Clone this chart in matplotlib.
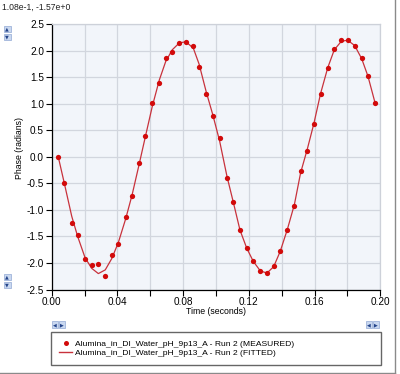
import matplotlib
matplotlib.use('Agg')
import matplotlib.pyplot as plt
from matplotlib.patches import Rectangle
from matplotlib.lines import Line2D

# ---------------- data ----------------
time_s = [0.0040, 0.0077, 0.0122, 0.0158, 0.0203, 0.0243, 0.0284, 0.0326,
          0.0365, 0.0405, 0.0450, 0.0489, 0.0530, 0.0570, 0.0612, 0.0655,
          0.0694, 0.0734, 0.0777, 0.0817, 0.0862, 0.0897, 0.0941, 0.0980,
          0.1022, 0.1067, 0.1105, 0.1146, 0.1187, 0.1227, 0.1270, 0.1310,
          0.1351, 0.1391, 0.1434, 0.1477, 0.1515, 0.1556, 0.1595, 0.1637,
          0.1680, 0.1720, 0.1763, 0.1801, 0.1844, 0.1887, 0.1925, 0.1968]

measured = [0.00, -0.49, -1.25, -1.48, -1.92, -2.03, -2.01, -2.24,
            -1.85, -1.64, -1.14, -0.74, -0.12, 0.40, 1.01, 1.40,
            1.86, 1.98, 2.14, 2.16, 2.10, 1.70, 1.18, 0.78,
            0.36, -0.40, -0.85, -1.38, -1.71, -1.96, -2.16, -2.19,
            -2.06, -1.78, -1.37, -0.92, -0.27, 0.12, 0.62, 1.19,
            1.68, 2.03, 2.20, 2.21, 2.10, 1.86, 1.52, 1.01]

fitted = [0.00, -0.50, -1.12, -1.50, -1.90, -2.10, -2.20, -2.13,
          -1.92, -1.62, -1.17, -0.72, -0.17, 0.38, 0.95, 1.45,
          1.80, 2.02, 2.15, 2.17, 2.05, 1.75, 1.22, 0.80,
          0.30, -0.37, -0.85, -1.38, -1.72, -1.97, -2.15, -2.19,
          -2.07, -1.78, -1.37, -0.90, -0.30, 0.15, 0.62, 1.20,
          1.68, 2.02, 2.18, 2.20, 2.10, 1.85, 1.52, 1.02]

x_major = [0.00, 0.04, 0.08, 0.12, 0.16, 0.20]
x_minor = [0.02, 0.06, 0.10, 0.14, 0.18]
y_major = [-2.5, -2.0, -1.5, -1.0, -0.5, 0.0, 0.5, 1.0, 1.5, 2.0, 2.5]

cursor_text = "1.08e-1, -1.57e+0"
x_label = "Time (seconds)"
y_label = "Phase (radians)"
label_measured = "Alumina_in_DI_Water_pH_9p13_A - Run 2 (MEASURED)"
label_fitted = "Alumina_in_DI_Water_pH_9p13_A - Run 2 (FITTED)"

# ---------------- figure ----------------
plt.rcParams['font.family'] = ['Liberation Sans', 'DejaVu Sans']
FS_TICK = 7.2
FS = 6.0
W, H = 400, 374
fig = plt.figure(figsize=(W / 100, H / 100), dpi=100)
fig.patch.set_facecolor('white')


def fx(x):
    return x / W


def fy(y):
    return 1 - y / H


ax = fig.add_axes([fx(51.7), fy(289.5), (380.3 - 51.7) / W, (289.5 - 24.3) / H])
ax.set_facecolor('#f2f5fa')

red_line = '#c8323c'
red_dot = '#d20a0a'
ax.plot(time_s, fitted, color=red_line, lw=0.9, zorder=3)
ax.plot(time_s, measured, 'o', color=red_dot, ms=3.8, mec='none', zorder=4)

ax.set_xlim(0, 0.2)
ax.set_ylim(-2.5, 2.5)
ax.set_xticks(x_major)
ax.set_xticklabels([f"{v:.2f}" for v in x_major])
ax.set_xticks(x_minor, minor=True)
ax.set_yticks(y_major)
ax.set_yticklabels([f"{v:.1f}" for v in y_major])

ax.grid(True, which='both', color='#d2d6de', lw=0.9, zorder=0)
ax.set_axisbelow(True)
ax.tick_params(which='both', direction='out', length=4, width=0.8, color='black',
               labelsize=FS_TICK, pad=1.5)

for s in ['top', 'right']:
    ax.spines[s].set_color('#cdd1d9')
    ax.spines[s].set_linewidth(0.9)
for s in ['left', 'bottom']:
    ax.spines[s].set_color('black')
    ax.spines[s].set_linewidth(0.9)

fig.text(fx(216.5), fy(311.7), x_label, ha='center', va='center', fontsize=FS + 0.3)
fig.text(fx(19), fy(148), y_label, ha='center', va='center', rotation=90, fontsize=FS + 0.3)
fig.text(fx(2), fy(7), cursor_text, ha='left', va='center', fontsize=FS + 0.2, color='#202020')

# legend
handles = [Line2D([], [], marker='o', ls='none', color=red_dot, ms=3.6, mec='none'),
           Line2D([], [], color=red_line, lw=1.0)]
leg = fig.legend(handles, [label_measured, label_fitted], loc='upper left',
                 bbox_to_anchor=(fx(51), fy(365), (380.7 - 51) / W, (365 - 332.3) / H),
                 mode='expand', borderaxespad=0, frameon=True, fancybox=False,
                 edgecolor='#404040', fontsize=FS + 0.1, handlelength=1.55,
                 handletextpad=0.35, labelspacing=0.12, borderpad=0.95)
leg.get_frame().set_linewidth(1.0)


# small scroll buttons
def button(x0, y0, w, h, glyph):
    fig.add_artist(Rectangle((fx(x0), fy(y0 + h)), w / W, h / H, transform=fig.transFigure,
                             facecolor='#c9d8f0', edgecolor='#9fb4da', lw=0.6))
    fig.text(fx(x0 + w / 2), fy(y0 + h / 2), glyph, ha='center', va='center',
             fontsize=3.5, color='#24448a', family='DejaVu Sans')


button(3.5, 25.5, 7, 6, '▲')
button(3.5, 34, 7, 6, '▼')
button(3.5, 273.5, 7, 6, '▲')
button(3.5, 282, 7, 6, '▼')
button(52, 321, 6, 7, '◀')
button(58.5, 321, 6, 7, '▶')
button(366, 321, 6, 7, '◀')
button(372.5, 321, 6, 7, '▶')

# window border
fig.add_artist(Line2D([fx(394.5), fx(394.5)], [fy(0), fy(372.5)], color='#8a8a8a', lw=1.0,
                      transform=fig.transFigure))
fig.add_artist(Line2D([fx(0), fx(394.5)], [fy(372.5), fy(372.5)], color='#8a8a8a', lw=1.0,
                      transform=fig.transFigure))

fig.savefig('out.png', dpi=100)
